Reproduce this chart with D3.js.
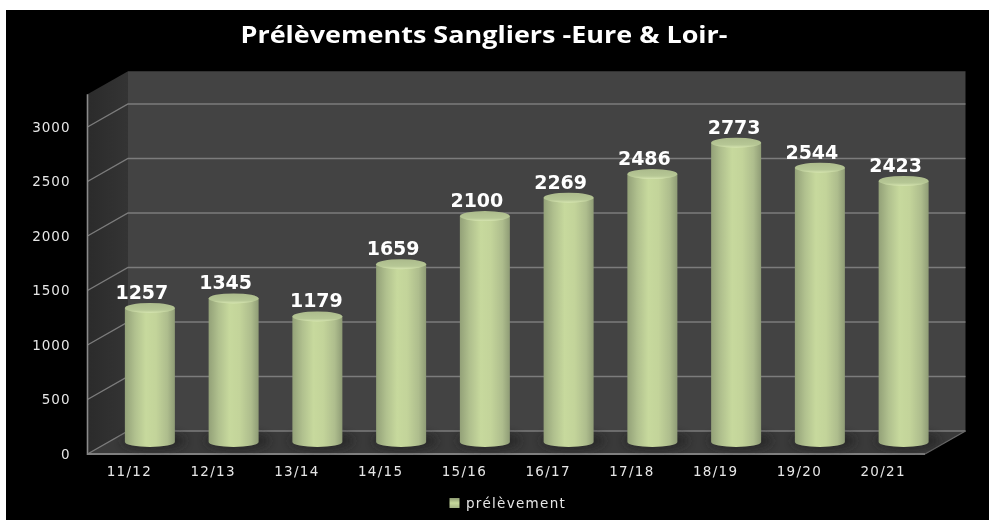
<!DOCTYPE html>
<html><head><meta charset="utf-8">
<script src="https://cdn.jsdelivr.net/npm/d3@7"></script>
<style>
html,body{margin:0;padding:0;background:#fff;overflow:hidden}
svg{display:block}
svg text{font-family:"DejaVu Sans",sans-serif}
</style></head><body>
<div id="chart"></div>
<script>
const title = "Prélèvements Sangliers -Eure & Loir-";
const seriesName = "prélèvement";
const categories = ["11/12","12/13","13/14","14/15","15/16","16/17","17/18","18/19","19/20","20/21"];
const values = [1257,1345,1179,1659,2100,2269,2486,2773,2544,2423];
const yTicks = [0,500,1000,1500,2000,2500,3000];
const labelNudge = {"13/14":7,"18/19":6};

const W=989,H=520;
const svg=d3.select("#chart").append("svg").attr("width",W).attr("height",H)
  .style("filter","blur(0.35px)");
const defs=svg.append("defs");

const depth={dx:40.5,dy:-23};
const y=d3.scaleLinear().domain([0,3000]).range([454,127]);
const wallTop=3300;
const x=d3.scaleBand().domain(categories).range([87.5,925]);
// bars stand mid-depth on the floor
const barBase=442, barTopY=d3.scaleLinear().domain([0,3000]).range([445,445-327]);
const barCx=c=>x(c)+x.bandwidth()/2+20.5;
const rx=25, ry=5;

const grad=defs.append("linearGradient").attr("id","cyl");
[[0,"#93a178"],[0.2,"#b0c08e"],[0.42,"#c7d99d"],[0.62,"#c3d49a"],[0.85,"#aebd8d"],[1,"#8f9c76"]]
 .forEach(([o,c])=>grad.append("stop").attr("offset",o).attr("stop-color",c));
const capGrad=defs.append("linearGradient").attr("id","cap").attr("x1",0).attr("y1",0).attr("x2",0).attr("y2",1);
[[0,"#acbb8c"],[0.7,"#b6c795"],[1,"#d6e5b0"]]
 .forEach(([o,c])=>capGrad.append("stop").attr("offset",o).attr("stop-color",c));
const sideGrad=defs.append("linearGradient").attr("id","side");
[[0,"#2b2b2b"],[1,"#343434"]].forEach(([o,c])=>sideGrad.append("stop").attr("offset",o).attr("stop-color",c));
const legGrad=defs.append("linearGradient").attr("id","leg").attr("x1",0).attr("y1",0).attr("x2",0).attr("y2",1);
[[0,"#8d9b72"],[0.5,"#c6d89c"],[1,"#a4b485"]].forEach(([o,c])=>legGrad.append("stop").attr("offset",o).attr("stop-color",c));
defs.append("filter").attr("id","soft").attr("x","-40%").attr("y","-100%").attr("width","180%").attr("height","300%")
  .append("feGaussianBlur").attr("stdDeviation",4);

// page
svg.append("rect").attr("x",6).attr("y",10).attr("width",W-6).attr("height",H-10).attr("fill","#000");

const [x0,x1]=x.range(), y0=y(0), yW=y(wallTop);
const pts=a=>a.map(p=>p.join(",")).join(" ");
// walls & floor
svg.append("polygon").attr("fill","#434343")
  .attr("points",pts([[x0+depth.dx,yW+depth.dy],[x1+depth.dx,yW+depth.dy],[x1+depth.dx,y0+depth.dy],[x0+depth.dx,y0+depth.dy]]));
svg.append("polygon").attr("fill","url(#side)")
  .attr("points",pts([[x0,yW],[x0+depth.dx,yW+depth.dy],[x0+depth.dx,y0+depth.dy],[x0,y0]]));
svg.append("polygon").attr("fill","#3a3a3a")
  .attr("points",pts([[x0,y0],[x1,y0],[x1+depth.dx,y0+depth.dy],[x0+depth.dx,y0+depth.dy]]));

// gridlines
const grid=svg.append("g").attr("stroke","#7c7c7c").attr("stroke-width",1.4).attr("fill","none");
grid.selectAll("path").data(yTicks).join("path")
  .attr("d",t=>`M${x0},${y(t)}L${x0+depth.dx},${y(t)+depth.dy}L${x1+depth.dx},${y(t)+depth.dy}`);
svg.append("line").attr("x1",x1).attr("y1",y0).attr("x2",x1+depth.dx).attr("y2",y0+depth.dy)
  .attr("stroke","#6a6a6a").attr("stroke-width",1.2);

// axes
const yAxis=d3.axisLeft(y).tickValues(yTicks).tickSize(0).tickPadding(17).tickFormat(d3.format("d"));
const gy=svg.append("g").attr("transform",`translate(${x0},0)`).call(yAxis);
gy.select(".domain").remove();
gy.selectAll("text").attr("fill","#e6e6e6").style("font-size","13.5px").style("letter-spacing","1px");
svg.append("line").attr("x1",x0).attr("x2",x0).attr("y1",yW).attr("y2",y0+1)
  .attr("stroke","#8a8a8a").attr("stroke-width",1.6);

const xAxis=d3.axisBottom(x).tickSize(0).tickPadding(12);
const gx=svg.append("g").attr("transform",`translate(0,${y0})`).call(xAxis);
gx.select(".domain").remove();
gx.selectAll("text").attr("fill","#e6e6e6").style("font-size","13.5px").style("letter-spacing","1.3px");
svg.append("line").attr("x1",x0).attr("x2",x1).attr("y1",y0).attr("y2",y0)
  .attr("stroke","#7f7f7f").attr("stroke-width",2);

// bars
const data=categories.map((c,i)=>({c,v:values[i]}));
svg.append("g").selectAll("ellipse").data(data).join("ellipse")
  .attr("cx",d=>barCx(d.c)+4).attr("cy",barBase-1).attr("rx",rx+7).attr("ry",ry+4)
  .attr("fill","#232323").attr("opacity",.7).attr("filter","url(#soft)");
const bars=svg.append("g").selectAll("g").data(data).join("g");
bars.append("path").attr("fill","url(#cyl)")
  .attr("d",d=>{const cx=barCx(d.c),t=barTopY(d.v);
    return `M${cx-rx},${t}L${cx-rx},${barBase}A${rx},${ry} 0 0 0 ${cx+rx},${barBase}L${cx+rx},${t}Z`;});
bars.append("ellipse").attr("fill","url(#cap)")
  .attr("cx",d=>barCx(d.c)).attr("cy",d=>barTopY(d.v)).attr("rx",rx).attr("ry",ry);

// value labels
svg.append("g").selectAll("text").data(data).join("text")
  .attr("x",d=>barCx(d.c)-8+(labelNudge[d.c]||0))
  .attr("y",d=>barTopY(d.v)-9)
  .attr("text-anchor","middle").attr("fill","#fff")
  .style("font-size","19px").style("font-weight","700")
  .text(d=>d.v);

// title
svg.append("text").attr("x",484).attr("y",43).attr("text-anchor","middle").attr("fill","#fff")
  .attr("textLength",487).attr("lengthAdjust","spacingAndGlyphs")
  .style("font-family","'Open Sans',sans-serif").style("font-weight","700").style("font-size","23px")
  .text(title);

// legend
svg.append("rect").attr("x",449.5).attr("y",498).attr("width",10).attr("height",10).attr("fill","url(#leg)");
svg.append("text").attr("x",466).attr("y",508).attr("fill","#e6e6e6")
  .style("font-size","13.5px").style("letter-spacing","1.3px").text(seriesName);
</script>
</body></html>
